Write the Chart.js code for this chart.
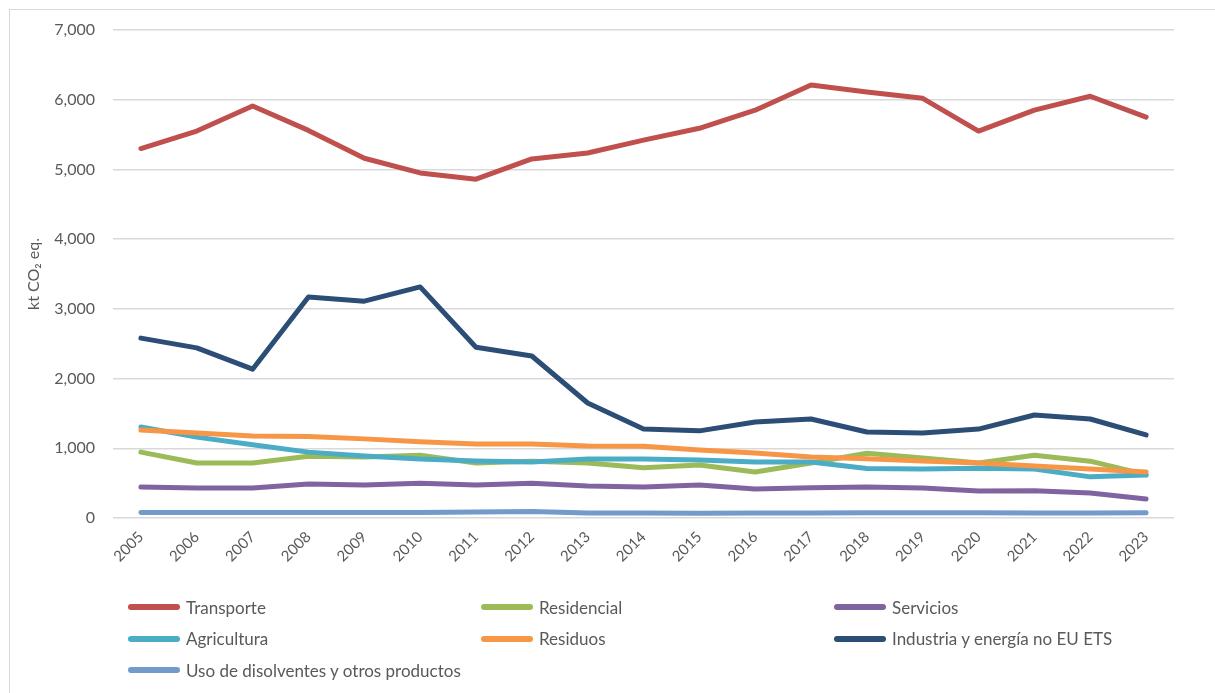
<!DOCTYPE html>
<html lang="es">
<head>
<meta charset="utf-8">
<title>Emisiones por sector</title>
<script src="https://cdn.jsdelivr.net/npm/chart.js@4.4.1/dist/chart.umd.min.js"></script>
<style>
  html, body { margin: 0; padding: 0; background: #fff; }
  #wrap { position: relative; width: 1215px; height: 693px; overflow: hidden; background: #fff; }
  #frame { position: absolute; left: 9px; top: 9px; right: -2px; bottom: -2px; border-left: 1px solid #d9d9d9; border-top: 1px solid #d9d9d9; }
  canvas { position: absolute; left: 0; top: 0; }
  .leg { position: absolute; display: flex; align-items: center; font-family: Lato, "Open Sans", sans-serif; font-size: 17px; color: #595959; white-space: nowrap; }
  .leg .sw { width: 52px; height: 6px; border-radius: 3px; margin-right: 6px; }
</style>
</head>
<body>
<div id="wrap">
  <div id="frame"></div>
  <canvas id="c" width="1215" height="693"></canvas>
</div>
<script>
// Años del eje horizontal
const years = ['2005','2006','2007','2008','2009','2010','2011','2012','2013','2014',
               '2015','2016','2017','2018','2019','2020','2021','2022','2023'];

// Emisiones por sector (kt CO2 eq.)
const transporte  = [5300,5550,5910,5560,5160,4950,4860,5150,5235,5420,5590,5850,6210,6110,6020,5550,5850,6050,5750];
const residencial = [945,790,790,885,875,900,790,815,790,720,760,660,790,930,860,790,900,815,620];
const servicios   = [445,430,430,488,473,500,475,500,460,445,473,416,435,445,430,387,391,359,273];
const agricultura = [1305,1160,1050,945,890,845,818,805,846,846,832,805,803,710,703,715,703,590,617];
const residuos    = [1262,1219,1176,1170,1135,1095,1062,1060,1033,1030,975,932,875,850,818,789,746,703,660];
const industria   = [2580,2440,2135,3170,3110,3315,2450,2324,1650,1277,1250,1377,1420,1234,1220,1275,1478,1420,1191];
const disolventes = [78,80,80,80,78,80,85,92,72,70,68,72,72,75,75,75,72,72,75];

// Etiquetas del eje vertical
const yTicks = [0,1000,2000,3000,4000,5000,6000,7000];

const seriesNames  = ['Transporte','Residencial','Servicios','Agricultura','Residuos',
                      'Industria y energía no EU ETS','Uso de disolventes y otros productos'];
const seriesValues = [transporte, residencial, servicios, agricultura, residuos, industria, disolventes];
const seriesColors = ['#C0504D','#9BBB59','#8064A2','#4BACC6','#F79646','#2C4D75','#729ACA'];

const FONT = 'Lato, "Open Sans", sans-serif';
const TEXT = '#595959';

const datasets = seriesNames.map((name, i) => ({
  label: name,
  data: seriesValues[i],
  borderColor: seriesColors[i],
  backgroundColor: seriesColors[i],
  borderWidth: 5,
  borderCapStyle: 'round',
  borderJoinStyle: 'round',
  pointRadius: 0,
  pointHoverRadius: 0,
  tension: 0,
  fill: false,
  // later series are painted over earlier ones
  order: seriesNames.length - i
}));

new Chart(document.getElementById('c'), {
  type: 'line',
  data: { labels: years, datasets },
  options: {
    responsive: false,
    animation: false,
    layout: { padding: { top: 30, right: 41, left: 0, bottom: 115 } },
    plugins: { legend: { display: false }, tooltip: { enabled: false } },
    scales: {
      x: {
        offset: true,
        grid: { display: false, drawTicks: false },
        border: { display: false },
        ticks: {
          color: TEXT, font: { family: FONT, size: 15 },
          minRotation: 45, maxRotation: 45, padding: 10, autoSkip: false
        },
        afterFit: s => { s.height = 60; }
      },
      y: {
        min: 0, max: 7000,
        afterBuildTicks: s => { s.ticks = yTicks.map(v => ({ value: v })); },
        grid: { color: '#d9d9d9', lineWidth: 1.5, drawTicks: false },
        border: { display: false },
        ticks: {
          color: TEXT, font: { family: FONT, size: 16 }, padding: 18,
          callback: v => v.toLocaleString('en-US')
        },
        title: {
          display: true, text: 'kt CO₂ eq.', color: TEXT,
          font: { family: FONT, size: 16 }, padding: { top: 24, bottom: 0 }
        },
        afterFit: s => { s.width = 113; }
      }
    }
  }
});

// Leyenda en tres columnas
const wrap = document.getElementById('wrap');
seriesNames.forEach((name, i) => {
  const col = i % 3, row = Math.floor(i / 3);
  const d = document.createElement('div');
  d.className = 'leg';
  d.style.left = (128 + col * 353) + 'px';
  d.style.top = (597 + row * 31.5) + 'px';
  d.style.height = '20px';
  const sw = document.createElement('span');
  sw.className = 'sw';
  sw.style.background = seriesColors[i];
  const tx = document.createElement('span');
  tx.textContent = name;
  d.appendChild(sw); d.appendChild(tx);
  wrap.appendChild(d);
});
</script>
</body>
</html>
